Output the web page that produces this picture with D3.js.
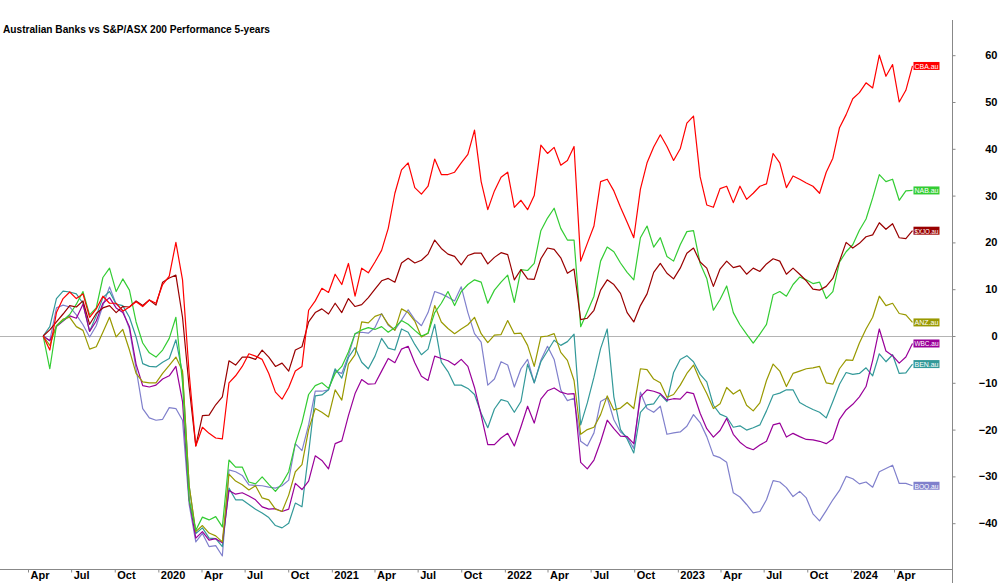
<!DOCTYPE html>
<html>
<head>
<meta charset="utf-8">
<script src="https://cdn.jsdelivr.net/npm/d3@7"></script>
<style>
  body { margin: 0; background: #fff; }
  text { font-family: "Liberation Sans", Arial, sans-serif; }
</style>
</head>
<body>
<script>
// Data: fortnightly % performance, first point 3 May 2019
var START_DATE = new Date(2019, 4, 3);
var STEP_DAYS = 14;

var cba = [0, -3, 5, 8, 9.4, 8, 9, 4, 5.8, 8.5,
  7, 7, 5.3, 6.2, 7.3, 6.3, 7.7, 7, 11, 12.8,
  20, 12, -8, -23.5, -19.5, -20.8, -21.8, -22, -10, -8.5,
  -6.5, -3.8, -4.3, -5, -8, -12, -13.5, -11, -7.5, -6.5,
  5.5, 7.5, 10.2, 9.3, 13.2, 11, 15.5, 8.5, 14.5, 13.5,
  15.8, 18.3, 23, 30.5, 35.5, 37, 31.7, 30.3, 32, 37.8,
  34.5, 34.5, 35, 37, 38.8, 44, 33, 27, 31, 33.9,
  35, 27.5, 29, 27, 30, 40.8, 39, 40.3, 36.5, 37.5,
  40.5, 16, 19.8, 23.5, 33, 33.5, 31, 27.5, 24.3, 21,
  31.4, 37, 40.4, 43, 40.5, 37.5, 40, 45.5, 47, 34,
  28, 27.5, 31.5, 32, 28.5, 32, 29.2, 30.5, 32, 32.5,
  39, 37, 31.7, 34.2, 33.5, 32.7, 32, 30.5, 35, 38,
  44.5, 47.3, 50.7, 52, 54.1, 53, 60, 55.5, 58, 50,
  52.5, 57.7];

var nab = [0, -7, 2.2, 3.3, 4.6, 6.8, 9.5, 4.5, 6, 12.5,
  14.5, 9.5, 12.2, 9.8, 3, -1.5, -3.6, -4.5, -3, -0.5,
  4, -10, -35, -41.5, -38.7, -39.3, -38.6, -40.8, -26.5, -28,
  -28, -31.2, -31.6, -30.1, -31.7, -33.2, -31.5, -29, -23, -18.5,
  -12.5, -10.6, -10, -11.2, -8, -6.5, -3.4, 0.5, 1.3, 1.8,
  1.4, 2, 0.8, 1.8, 3.3, 2.5, 1.2, 0, 0.6, 5,
  7, 9.5, 6.5, 9.5, 11, 12, 11.5, 7, 9.8, 11.5,
  13, 7.2, 14.2, 14, 15.5, 22.5, 25.2, 27.3, 23, 20.5,
  20.5, 2, 5.2, 8.5, 16, 19, 18, 15.6, 13.6, 12,
  21, 23.5, 19, 21, 17, 16, 19.5, 22.3, 22.5, 15.5,
  12.3, 5.5, 7.8, 10.7, 5, 2.4, 0.4, -1.5, 0.4, 2.5,
  8.8, 9.5, 8.5, 11, 12.6, 12, 11.2, 11.5, 8, 9.5,
  15.8, 18, 19.5, 22.6, 25, 29.5, 34.5, 33, 33.5, 29,
  31, 31.1];

var xjo = [0, 1.3, 3, 4.7, 6.5, 6.2, 7.5, 2.5, 4.8, 6,
  6.5, 5, 6.3, 6.2, 7.5, 6.5, 7.7, 6.6, 11.5, 12.4,
  13, 4, -10.9, -23.5, -17, -16.9, -14.7, -13, -5.3, -6.2,
  -4.5, -4.5, -5, -3, -4.5, -6.5, -5.8, -7.5, -3, -2.3,
  3, 5, 5.8, 4.7, 7, 5, 8, 6.3, 6.7, 8.2,
  10, 11.8, 12.3, 11.5, 15.6, 16.6, 15.6, 16.2, 17.5, 20.5,
  18.7, 17.5, 17, 15.2, 17.2, 17.7, 17.7, 15.4, 16.8, 17.8,
  17.4, 12, 14.2, 12.2, 12.1, 16.5, 18.8, 18.5, 16.7, 13.4,
  14.3, 3.5, 3.8, 5.5, 9.8, 12, 11, 9.1, 5, 3,
  6.5, 9, 13.6, 15.5, 13.4, 12.2, 14.5, 17.7, 18.8, 15.8,
  14.5, 10.6, 14.3, 16, 14.6, 15, 13.2, 14.5, 13.8, 15.4,
  16.5, 16, 13.2, 14.5, 13.2, 11.8, 10, 9.8, 10.6, 12.3,
  16, 20, 18.8, 19.8, 21.2, 21.6, 24.2, 22.8, 24, 21,
  20.8, 22.5];

var anz = [0, -2, 2.2, 3.6, 4, 2, 1.2, -2.8, -2.3, 0.8,
  4, -0.2, 1.4, -3, -8, -9.8, -10, -10, -8, -6.3,
  -4.5, -7.5, -32, -41.8, -40.5, -42.1, -42.7, -44, -29.5, -31,
  -31.8, -32.9, -32, -34.6, -35, -37, -37.5, -34, -29, -27.5,
  -20, -15.5, -16.3, -17.3, -11.5, -13.7, -6, -4, 3, 2.8,
  4.2, 4.7, 2.5, 1.2, 5.8, 5, 3.2, -0.2, 0.6, 6.5,
  3, 1.6, 0.5, 1.5, 2.4, 4, 0.5, -1.4, 0.2, 0.3,
  3.3, 0.5, 0.6, -2, -6.5, -0.2, 0, 0.5, -3.5, -5.2,
  -9.5, -21, -20, -19.5, -16.8, -12.8, -15.8, -15.4, -14.2, -15.5,
  -7, -7.2, -9.2, -10, -13.1, -12.5, -10.5, -8, -6.2, -9.5,
  -12.3, -15.5, -14.5, -11, -12.4, -11.5, -14.8, -16, -14.3, -9.5,
  -6, -7.5, -10.8, -8, -7.5, -7, -6.8, -6.5, -10, -10.3,
  -7, -5.1, -5.2, -1.5, 1.5, 4, 8.5, 6.5, 7, 4.8,
  4.5, 2.9];

var wbc = [0, -1, 2, 3.2, 4.3, 3.8, 6.8, 1, 3.2, 7,
  8.2, 6, 5, 2, -6, -10.6, -10.9, -10.5, -9.2, -8.5,
  -6.5, -14, -35, -43.2, -41.8, -43.6, -43.3, -44.2, -33, -33.8,
  -33.5, -34.2, -35, -36.5, -37, -36.9, -37.5, -37, -31.5, -32.8,
  -31, -25.6, -26.6, -28.4, -23, -22.4, -17, -12.3, -9.3, -10.3,
  -10.2, -7.5, -4.8, -5.7, -2.8, -2.2, -5.7, -8.6, -9.5, -4.3,
  -4.8, -5.3, -6.2, -5, -6.5, -11, -16.9, -23.2, -23.2, -21.8,
  -20.8, -23.5, -19.4, -15, -18.6, -13.5, -11.7, -11.1, -12, -12.4,
  -12.3, -27, -28.4, -26.5, -22.6, -18, -19.8, -21.4, -21.5, -23,
  -13, -11.5, -11.8, -12.3, -13.7, -13.4, -13.5, -12, -12.3, -16.5,
  -19.8, -21.6, -20.2, -17.6, -21, -22.7, -23.8, -24.3, -23.3, -22.5,
  -19, -18.6, -21.6, -20.8, -21.5, -22.1, -22.2, -22.5, -23, -22,
  -17.8, -15.8, -14.6, -13, -10.8, -5.2, 1.5, -3.2, -4.2, -5.8,
  -4.5, -1.6];

var ben = [0, 2, 8, 9.6, 9.4, 9, 7, 1, 4.3, 8.2,
  9.5, 6.8, 6.5, 4, -0.2, -5.9, -6.5, -6.6, -5.6, -4.8,
  -0.8, -8, -32, -42.2, -41, -43.2, -43.3, -45, -32.5, -35,
  -35, -36, -37, -37.8, -38.8, -40.5, -41, -40, -35.7, -36.5,
  -25, -12.8, -12.6, -11.5, -7, -9, -4.6, -2.5, -5.6, -7,
  -4.3, -0.5, -2.6, -3, 1.5, 0.8, -1.8, -4, -2.8, 2.5,
  -5.6, -7.6, -10.5, -10.5, -11.2, -12.5, -16.5, -19.6, -15.6, -13.6,
  -14, -16.3, -14, -6, -10, -5.5, -3.2, -0.9, -2, -1.2,
  0.4, -19, -14.3, -8.8, -2.7, 1.5, -13, -20, -22, -25,
  -16.3, -14.7, -14.5, -12.5, -14, -7.8, -5, -4.2, -5.5, -8.2,
  -9.8, -14.8, -16.7, -17.3, -19.5, -19.2, -20.1, -19.6, -19, -16,
  -12.6, -12.2, -11.5, -11.5, -14.2, -15, -15.7, -16.3, -17.5, -14,
  -10.3, -7.8, -8.2, -8, -6.8, -8.5, -3.8, -5.5, -4, -8,
  -7.9, -6];

var boq = [0, -1, 6, 6.6, 6.2, 4.5, 2.4, -0.2, 2.2, 6.5,
  10.5, 6.8, 5.5, 1.5, -7, -15.5, -17.5, -18, -17.8, -15.3,
  -15.5, -18, -36, -44, -42.2, -45, -44.8, -47, -28.6, -29,
  -29.8, -31.8, -31.9, -32, -32.3, -32.5, -32, -30.8, -23, -24.5,
  -19, -11.8, -11.8, -11.5, -7.5, -8, -4.2, 0.5, 0.8, 0.6,
  1.8, 4.8, 2.3, 1.3, 3.4, 5.6, 3.5, 2.2, 5, 9.5,
  9, 8.3, 7.5, 10.5, 5, 0.5, -1.3, -10.5, -9.2, -5.5,
  -6.2, -10.9, -7, -5, -10, -5.2, -2.2, -5, -11.5, -13.8,
  -13.3, -22.5, -23.5, -20.7, -14, -13.2, -17.9, -20.5, -21.6, -24,
  -12, -15.5, -16.3, -15, -21, -20.7, -20.5, -19.3, -16.8, -18.5,
  -21.5, -25.5, -26, -27, -33.5, -34.4, -36, -37.8, -37.5, -35,
  -30.9, -31.2, -32.4, -34.3, -33.2, -34.6, -38, -39.5, -37.3, -35,
  -33, -30, -30.5, -31.6, -31.2, -32.3, -29, -28.3, -27.6, -31.5,
  -31.5, -32];

// drawn bottom to top
var seriesNames = ['BOQ.au', 'BEN.au', 'WBC.au', 'ANZ.au', 'NAB.au', '$XJO.au', 'CBA.au'];
var seriesValues = [boq, ben, wbc, anz, nab, xjo, cba];
var seriesColors = ['#8080CC', '#339999', '#990099', '#999900', '#33CC33', '#990000', '#FF0000'];

var yTicks = [-40, -30, -20, -10, 0, 10, 20, 30, 40, 50, 60];

// Layout
var WIDTH = 1000;
var HEIGHT = 583;
var AXIS_X = 952;
var AXIS_Y = 569;
var TITLE = 'Australian Banks vs S&P/ASX 200 Performance 5-years';

var dates = cba.map(function (d, i) {
  return d3.timeDay.offset(START_DATE, i * STEP_DAYS);
});

var x = d3.scaleTime()
  .domain([new Date(2019, 3, 1), new Date(2024, 3, 1)])
  .range([28, 894]);

var y = d3.scaleLinear()
  .domain([-40, 60])
  .range([523.2, 55.2]);

var svg = d3.select('body').append('svg')
  .attr('width', WIDTH)
  .attr('height', HEIGHT);

svg.append('text')
  .attr('x', 3)
  .attr('y', 33)
  .attr('font-size', 11.5)
  .attr('font-weight', 'bold')
  .attr('fill', '#000')
  .attr('textLength', 267)
  .attr('lengthAdjust', 'spacingAndGlyphs')
  .text(TITLE);

// zero line
svg.append('line')
  .attr('x1', 0)
  .attr('x2', AXIS_X)
  .attr('y1', Math.round(y(0)) + 0.5)
  .attr('y2', Math.round(y(0)) + 0.5)
  .attr('stroke', '#b4b4b4')
  .attr('stroke-width', 1);

// x axis
var monthFmt = d3.timeFormat('%b');
var xAxis = d3.axisBottom(x)
  .tickValues(d3.timeMonth.every(3).range(new Date(2019, 3, 1), new Date(2024, 4, 1)))
  .tickSize(3)
  .tickFormat(function (d) {
    return d.getMonth() === 0 ? d.getFullYear() : monthFmt(d);
  });

var gx = svg.append('g')
  .attr('transform', 'translate(0,' + (AXIS_Y + 0.5) + ')')
  .call(xAxis);
gx.select('.domain').remove();
gx.selectAll('.tick line').attr('stroke', '#888');
gx.selectAll('.tick text')
  .attr('text-anchor', 'start')
  .attr('x', 2)
  .attr('y', 2)
  .attr('dy', '0.71em')
  .attr('font-size', 11)
  .attr('font-weight', 'bold')
  .attr('font-family', '"Liberation Sans", Arial, sans-serif')
  .attr('fill', '#000');

svg.append('line')
  .attr('x1', 0)
  .attr('x2', AXIS_X)
  .attr('y1', AXIS_Y + 0.5)
  .attr('y2', AXIS_Y + 0.5)
  .attr('stroke', '#888');

// y axis on the right
var yAxis = d3.axisRight(y)
  .tickValues(yTicks)
  .tickSize(3)
  .tickFormat(d3.format('d'));

var gy = svg.append('g')
  .attr('transform', 'translate(' + (AXIS_X + 0.5) + ',0)')
  .call(yAxis);
gy.select('.domain').remove();
gy.selectAll('.tick line').attr('stroke', '#888');
gy.selectAll('.tick text')
  .attr('text-anchor', 'end')
  .attr('x', 45)
  .attr('font-size', 11)
  .attr('font-weight', 'bold')
  .attr('font-family', '"Liberation Sans", Arial, sans-serif')
  .attr('fill', '#000');

svg.append('line')
  .attr('x1', AXIS_X + 0.5)
  .attr('x2', AXIS_X + 0.5)
  .attr('y1', 20)
  .attr('y2', HEIGHT)
  .attr('stroke', '#888');

// lines
var lineFn = d3.line()
  .x(function (d, i) { return x(dates[i]); })
  .y(function (d) { return y(d); });

svg.append('g')
  .selectAll('path')
  .data(seriesValues)
  .join('path')
  .attr('d', lineFn)
  .attr('fill', 'none')
  .attr('stroke', function (d, i) { return seriesColors[i]; })
  .attr('stroke-width', 1.2)
  .attr('stroke-linejoin', 'round');

// end labels
var labels = svg.append('g')
  .selectAll('g')
  .data(seriesValues)
  .join('g')
  .attr('transform', function (d) {
    var last = d.length - 1;
    return 'translate(' + (x(dates[last]) + 1) + ',' + y(d[last]) + ')';
  });

labels.append('rect')
  .attr('x', 0)
  .attr('y', -4)
  .attr('width', 26)
  .attr('height', 8)
  .attr('fill', function (d, i) { return seriesColors[i]; });

labels.append('text')
  .attr('x', 1)
  .attr('y', 3)
  .attr('font-size', 8)
  .attr('textLength', 24)
  .attr('lengthAdjust', 'spacingAndGlyphs')
  .attr('fill', '#fff')
  .text(function (d, i) { return seriesNames[i]; });
</script>
</body>
</html>
